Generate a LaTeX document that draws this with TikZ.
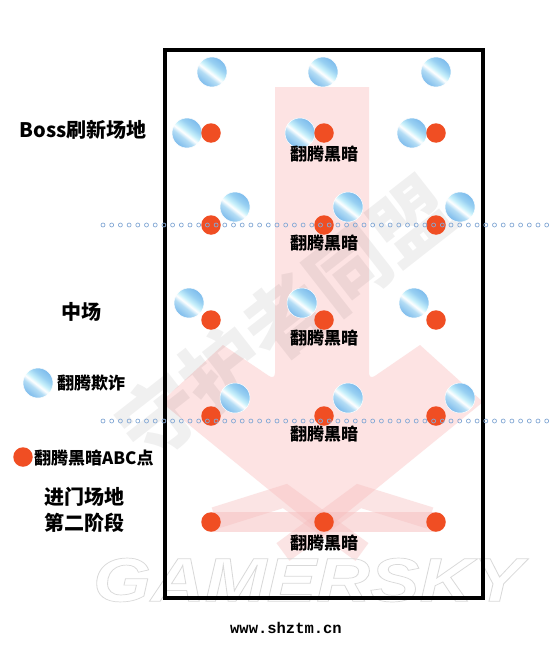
\documentclass[tikz,border=0pt]{standalone}
\usepackage{fontspec}
\setmainfont{Noto Sans CJK SC}
\newfontfamily\urlfont{Liberation Mono}
\newfontfamily\wmfont{Liberation Sans}
\usetikzlibrary{positioning}
\definecolor{dRed}{HTML}{F04E23}
\definecolor{aPink}{HTML}{FDE3E3}
\definecolor{bPink}{HTML}{F6BDBD}
\definecolor{dotBlue}{HTML}{86AAD6}
\definecolor{bA}{HTML}{7DBBEC}
\definecolor{bB}{HTML}{B4DDF5}
\definecolor{bC}{HTML}{C9F1FB}
\definecolor{bD}{HTML}{98D0F2}
\pgfdeclarehorizontalshading{bluestripe}{100bp}{color(0bp)=(bA); color(25bp)=(bA);
  color(40bp)=(bB); color(47bp)=(white); color(53bp)=(bC); color(63bp)=(bD);
  color(75bp)=(bA); color(100bp)=(bA)}

\begin{document}
\begin{tikzpicture}[x=1pt, y=-1pt,
  reddot/.style={circle, fill=dRed, minimum size=19.5pt, inner sep=0pt},
  bluedot/.style={circle, shading=bluestripe, shading angle=52, draw=white,
    line width=0.5pt, minimum size=30pt, inner sep=0pt},
  darklbl/.style={font=\bfseries\fontsize{17}{17}\selectfont, inner sep=0pt},
  sidelbl/.style={font=\bfseries\fontsize{20}{26}\selectfont, inner sep=0pt, align=center}]
  \useasboundingbox[fill=white] (0,0) rectangle (550,661);

  % big arrow and bottom marks
  \begin{scope}
    \clip (165,50) rectangle (483,598);
    \fill[aPink] (275,87) [rounded corners=7pt] -- (275,380) [sharp corners] -- (223,345)
      -- (161,402) -- (322,533) -- (483,402) -- (420,345)
      [rounded corners=7pt] -- (369,380) [sharp corners] -- (369,87) -- cycle;
    \draw[bPink, opacity=0.4, line width=22pt] (215,518) -- (285,496) -- (362,552);
    \draw[bPink, opacity=0.4, line width=22pt] (430,518) -- (359,496) -- (283,552);
    \fill[bPink, opacity=0.5] (211,512) rectangle (436,532);
  \end{scope}

  % watermarks
  \node[rotate=38, text=black, opacity=0.06, font=\bfseries\fontsize{80}{80}\selectfont]
    (wmark) at (285,318) {守护者同盟};
  \node[xscale=1.2, font=\wmfont\bfseries\itshape\fontsize{62}{62}\selectfont, inner sep=0pt]
    (gsky) at (308,580) {\special{pdf:literal 1 Tr 0.7 w 0.85 G}GAMERSKY\special{pdf:literal 0 Tr 0 G}};

  % arena
  \draw[line width=3.5pt] (165,50) rectangle (483,598);

  \foreach \x [count=\i] in {212,323,436} \node[bluedot] (top-\i) at (\x,72) {};
  \foreach \x [count=\i] in {211,324,436} {
    \node[bluedot] (ba-\i) at (\x-24,133) {};
    \node[reddot] (ra-\i) at (\x,133) {};
    \node[bluedot] (bb-\i) at (\x+24,207) {};
    \node[reddot] (rb-\i) at (\x,225) {};
    \node[bluedot] (bc-\i) at (\x-22,303) {};
    \node[reddot] (rc-\i) at (\x,320) {};
    \node[bluedot] (bd-\i) at (\x+24,398) {};
    \node[reddot] (rd-\i) at (\x,416) {};
    \node[reddot] (re-\i) at (\x,522) {};
  }

  % dotted borders
  \foreach \y in {225,421}
    \foreach \x in {103,111.7,...,549}
      \draw[dotBlue, line width=0.7pt] (\x,\y) circle[radius=2pt];

  \foreach \y [count=\i] in {154,243,338,434,543}
    \node[darklbl] (dark-\i) at (324,\y) {翻腾黑暗};

  % side labels and legend
  \node[sidelbl] (boss) at (83,130) {Boss刷新场地};
  \node[sidelbl] (mid) at (81,312) {中场};
  \node[bluedot] (keyb) at (38,383) {};
  \node[darklbl, anchor=west] (keybt) at (57,383) {翻腾欺诈};
  \node[reddot] (keyr) at (23,457) {};
  \node[darklbl, anchor=west] (keyrt) at (34,458) {翻腾黑暗ABC点};
  \node[sidelbl] (entry) at (84,510) {进门场地\\第二阶段};
  \node[font=\urlfont\bfseries\fontsize{15.5}{16}\selectfont, inner sep=0pt] (site) at (286,628) {www.shztm.cn};
\end{tikzpicture}
\end{document}
